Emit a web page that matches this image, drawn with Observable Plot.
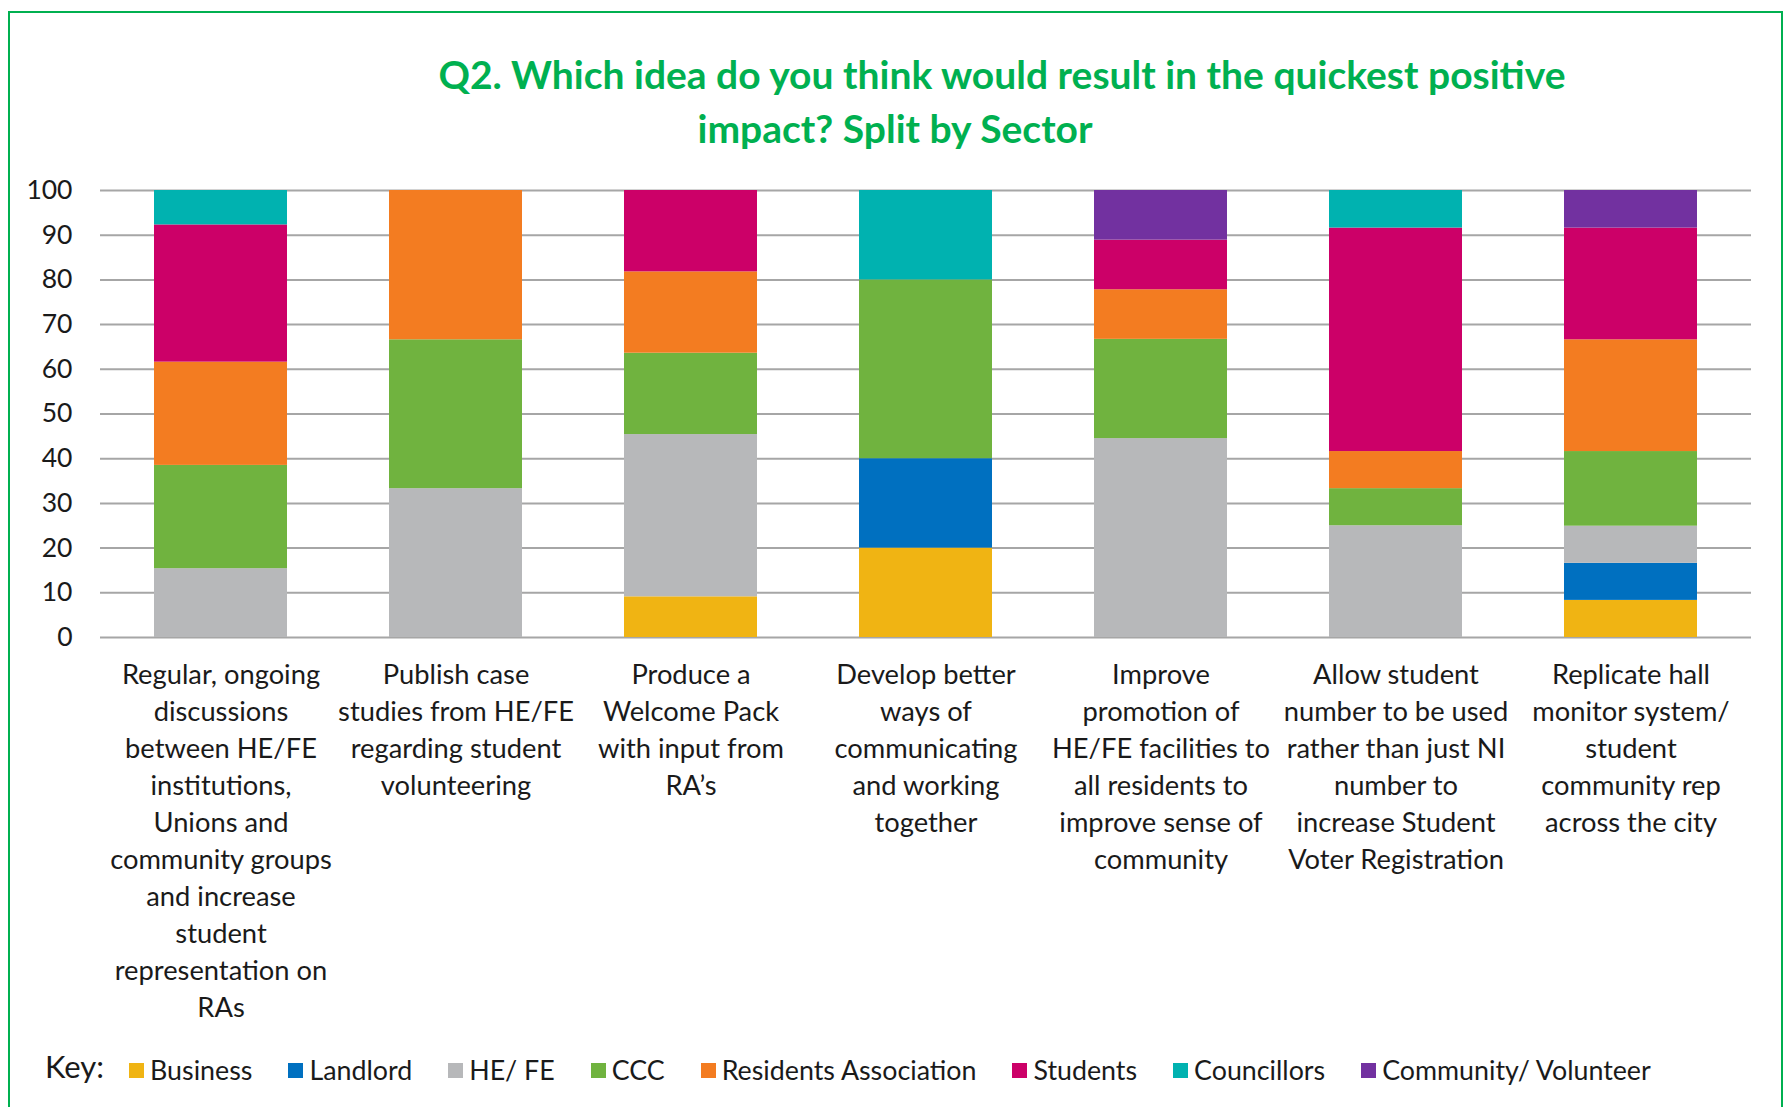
<!DOCTYPE html>
<html><head><meta charset="utf-8">
<script src="https://cdn.jsdelivr.net/npm/d3@7"></script>
<script src="https://cdn.jsdelivr.net/npm/@observablehq/plot@0.6"></script>
<style>
body{margin:0;background:#fff;font-family:Lato,"Open Sans",sans-serif;}
#page{position:relative;width:1784px;height:1107px;overflow:hidden;background:#fff;}
#frame{position:absolute;left:8px;top:11px;width:1775px;height:1200px;border:2px solid #00B050;box-sizing:border-box;}
.t{position:absolute;width:1400px;text-align:center;color:#00B050;font-weight:bold;font-size:39px;line-height:44px;white-space:nowrap;}
#chart{position:absolute;left:0;top:150px;}
#legend{position:absolute;left:45px;top:1050px;height:40px;display:flex;align-items:center;font-size:26.8px;color:#1a1a1a;white-space:nowrap;}
#legend .key{font-size:31px;margin-right:25px;position:relative;top:-4px;}
#legend .item{display:flex;align-items:center;margin-right:36px;}
#legend .sw{width:15px;height:15px;margin-right:6px;}
</style></head>
<body><div id="page">
<div id="frame"></div>
<div class="t" id="t1" style="left:302px;top:52px;"></div>
<div class="t" id="t2" style="left:195px;top:106px;"></div>
<div id="chart"></div>
<div id="legend"></div>
</div>
<script>
const titleLines = ["Q2. Which idea do you think would result in the quickest positive", "impact? Split by Sector"];
const ideas = [
  "Regular, ongoing discussions",
  "Publish case studies",
  "Produce a Welcome Pack",
  "Develop better ways",
  "Improve promotion",
  "Allow student number",
  "Replicate hall monitor"
];
const ideaLabels = [
  "Regular, ongoing\ndiscussions\nbetween HE/FE\ninstitutions,\nUnions and\ncommunity groups\nand increase\nstudent\nrepresentation on\nRAs",
  "Publish case\nstudies from HE/FE\nregarding student\nvolunteering",
  "Produce a\nWelcome Pack\nwith input from\nRA\u2019s",
  "Develop better\nways of\ncommunicating\nand working\ntogether",
  "Improve\npromotion of\nHE/FE facilities to\nall residents to\nimprove sense of\ncommunity",
  "Allow student\nnumber to be used\nrather than just NI\nnumber to\nincrease Student\nVoter Registration",
  "Replicate hall\nmonitor system/\nstudent\ncommunity rep\nacross the city"
];
const sectors = ["Business","Landlord","HE/ FE","CCC","Residents Association","Students","Councillors","Community/ Volunteer"];
const sectorColors = ["#F0B413","#0070C0","#B7B8BA","#70B33F","#F37C21","#CC0068","#00B2B0","#7231A0"];
const business    = [0,    0,    9.1,  20, 0,    0,    8.3];
const landlord    = [0,    0,    0,    20, 0,    0,    8.3];
const heFe        = [15.4, 33.3, 36.3, 0,  44.5, 25,   8.3];
const ccc         = [23.1, 33.3, 18.2, 40, 22.2, 8.3,  16.7];
const residents   = [23.1, 33.4, 18.2, 0,  11.1, 8.3,  25];
const students    = [30.7, 0,    18.2, 0,  11.1, 50,   25];
const councillors = [7.7,  0,    0,    20, 0,    8.4,  0];
const community   = [0,    0,    0,    0,  11.1, 0,    8.4];
const yTicks = [0,10,20,30,40,50,60,70,80,90,100];

document.getElementById("t1").textContent = titleLines[0];
document.getElementById("t2").textContent = titleLines[1];

const series = [business, landlord, heFe, ccc, residents, students, councillors, community];
const rows = [];
ideas.forEach((idea, i) => {
  sectors.forEach((s, j) => {
    if (series[j][i] > 0) rows.push({idea, sector: s, value: series[j][i]});
  });
});

const chart = Plot.plot({
  width: 1784,
  height: 880,
  marginLeft: 100,
  marginRight: 33,
  marginTop: 40,
  marginBottom: 393,
  style: {fontFamily: "Lato, 'Open Sans', sans-serif", color: "#1a1a1a", background: "transparent"},
  x: {domain: ideas, paddingInner: 0.436, paddingOuter: 0.218, axis: null},
  y: {domain: [0, 100], axis: null},
  color: {domain: sectors, range: sectorColors},
  marks: [
    Plot.ruleY(yTicks, {stroke: "#A6A6A6", strokeWidth: 2}),
    Plot.barY(rows, {x: "idea", y: "value", fill: "sector", order: sectors}),
    Plot.axisY({ticks: yTicks, tickSize: 0, tickPadding: 28, fontSize: 26.5, textAnchor: "end", label: null}),
    Plot.axisX({tickSize: 0, tickPadding: 20, fontSize: 27.3, lineHeight: 1.355, label: null,
      tickFormat: d => ideaLabels[ideas.indexOf(d)]})
  ]
});
document.getElementById("chart").appendChild(chart);

const legend = document.getElementById("legend");
const key = document.createElement("span");
key.className = "key"; key.textContent = "Key:";
legend.appendChild(key);
sectors.forEach((s, j) => {
  const item = document.createElement("div");
  item.className = "item";
  const sw = document.createElement("div");
  sw.className = "sw"; sw.style.background = sectorColors[j];
  const lab = document.createElement("span");
  lab.textContent = s;
  item.appendChild(sw); item.appendChild(lab);
  legend.appendChild(item);
});
</script>
</body></html>
